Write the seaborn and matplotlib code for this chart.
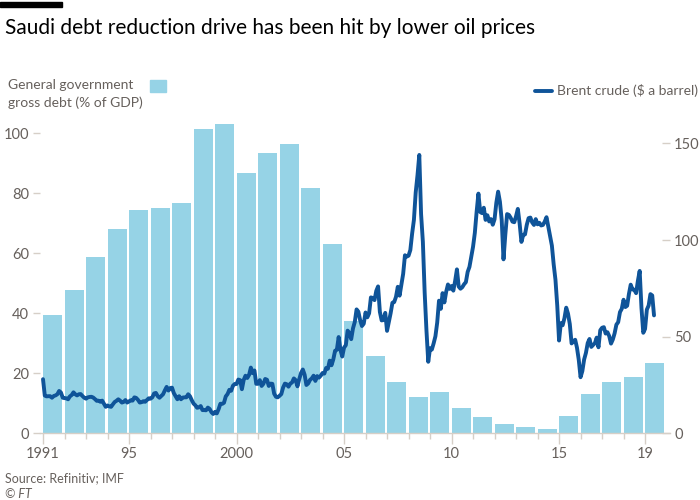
import numpy as np
import pandas as pd
import matplotlib
matplotlib.use("Agg")
import matplotlib.pyplot as plt
from matplotlib.patches import Rectangle
from matplotlib.lines import Line2D
import seaborn as sns

# -------------------------
# Data
# -------------------------
years = list(range(1991, 2020))
debt_pct_gdp = [39.4, 47.8, 58.8, 68.0, 74.3, 75.2, 76.7, 101.5, 103.1, 86.9,
                93.3, 96.4, 81.7, 63.0, 37.3, 25.7, 17.0, 12.0, 13.8, 8.3,
                5.3, 3.0, 2.0, 1.4, 5.7, 13.1, 17.0, 18.9, 23.5]

# Brent crude, $ a barrel, one value per month from Jan 1991 to Jun 2019
brent_start_year = 1991
brent_monthly = [
    28.0, 19.5, 19.1, 19.2, 19.2, 18.4, 19.3, 19.6, 20.2, 21.9, 21.1, 18.4,  # 1991
    18.2, 18.1, 17.6, 19.1, 19.8, 21.2, 20.2, 19.6, 20.2, 20.3, 19.3, 18.4,  # 1992
    17.9, 18.6, 18.8, 18.9, 18.5, 17.7, 16.8, 16.9, 16.3, 16.9, 15.3, 13.7,  # 1993
    14.4, 13.9, 13.7, 15.0, 16.2, 16.8, 17.6, 16.9, 15.9, 16.2, 17.2, 15.9,  # 1994
    16.5, 17.1, 16.9, 18.6, 18.3, 17.3, 15.9, 16.1, 16.6, 16.3, 17.2, 18.1,  # 1995
    17.9, 18.6, 20.6, 20.9, 19.2, 18.4, 19.3, 20.2, 22.2, 24.0, 22.1, 23.4,  # 1996
    23.6, 20.8, 19.2, 17.6, 19.2, 17.6, 18.5, 18.6, 18.6, 20.2, 19.2, 17.2,  # 1997
    15.4, 14.5, 13.2, 13.4, 14.1, 12.0, 12.0, 11.9, 13.3, 12.6, 10.9, 10.0,  # 1998
    11.1, 10.3, 12.5, 15.3, 15.2, 15.8, 19.1, 20.3, 22.5, 22.0, 24.6, 25.5,  # 1999
    25.5, 27.8, 27.5, 22.8, 27.6, 29.8, 28.6, 30.2, 34.0, 31.1, 32.5, 25.6,  # 2000
    25.6, 27.5, 24.5, 25.6, 28.1, 27.7, 24.5, 25.7, 25.6, 20.5, 18.9, 18.6,  # 2001
    19.4, 20.3, 23.7, 25.7, 25.4, 24.1, 25.7, 26.3, 28.4, 27.5, 24.3, 28.0,  # 2002
    31.2, 33.0, 30.3, 25.0, 25.8, 27.6, 28.4, 29.8, 27.1, 29.6, 28.8, 29.8,  # 2003
    31.2, 30.9, 33.8, 33.4, 37.6, 35.2, 38.2, 42.7, 43.2, 49.8, 43.1, 39.7,  # 2004
    44.3, 45.6, 53.1, 51.9, 48.7, 54.3, 57.6, 64.1, 62.9, 58.5, 55.5, 56.7,  # 2005
    62.5, 60.0, 62.1, 70.3, 70.0, 68.9, 73.7, 76.0, 62.8, 58.4, 58.6, 62.3,  # 2006
    53.0, 57.6, 62.1, 67.5, 67.9, 70.6, 75.8, 71.2, 77.0, 82.5, 92.1, 91.4,  # 2007
    91.9, 94.8, 103.3, 110.4, 124.6, 133.5, 144.0, 113.4, 99.0, 72.8, 53.2, 37.0,  # 2008
    44.0, 43.3, 46.5, 50.2, 57.3, 68.6, 64.4, 72.5, 67.7, 73.2, 77.0, 74.7,  # 2009
    76.2, 73.8, 78.8, 84.8, 75.9, 74.8, 75.6, 77.1, 78.2, 83.5, 86.1, 91.4,  # 2010
    96.5, 103.7, 114.6, 124.0, 114.5, 113.9, 116.7, 110.4, 112.8, 109.6, 110.8, 107.9,  # 2011
    110.7, 119.3, 125.0, 119.8, 110.3, 90.0, 102.6, 113.4, 113.0, 111.5, 109.5, 109.2,  # 2012
    112.3, 116.1, 108.5, 99.0, 102.6, 102.9, 107.9, 111.3, 111.6, 109.1, 107.8, 110.8,  # 2013
    108.1, 108.9, 107.5, 107.8, 109.5, 111.8, 106.8, 101.6, 97.1, 87.4, 79.4, 66.0,  # 2014
    48.0, 57.0, 55.9, 59.5, 65.0, 61.9, 56.5, 46.5, 47.6, 48.4, 44.3, 38.0,  # 2015
    29.0, 32.2, 38.2, 41.6, 46.7, 48.8, 44.7, 45.7, 46.6, 49.5, 44.5, 53.3,  # 2016
    54.6, 54.9, 51.6, 52.3, 50.3, 46.4, 48.5, 51.7, 56.2, 57.5, 62.7, 64.4,  # 2017
    69.1, 65.3, 66.0, 72.1, 76.9, 74.4, 74.3, 72.5, 78.9, 84.0, 64.8, 52.0,  # 2018
    54.0, 64.0, 66.1, 72.0, 71.3, 61.0,  # 2019
]

x_labels = ["1991", "95", "2000", "05", "10", "15", "19"]
x_label_years = [1991, 1995, 2000, 2005, 2010, 2015, 2019]
left_ticks = [0, 20, 40, 60, 80, 100]
right_ticks = [0, 50, 100, 150]

# -------------------------
# Style
# -------------------------
BAR_COLOR = "#96d3e6"
LINE_COLOR = "#0f5499"
TEXT_GREY = "#66605c"
TICK_GREY = "#d6cfc7"

sns.set_theme(style="white")
plt.rcParams["font.family"] = ["Lato", "DejaVu Sans"]

debt_df = pd.DataFrame({"year": [y + 0.45 for y in years], "debt": debt_pct_gdp})
brent_df = pd.DataFrame({
    "date": [brent_start_year + i / 12 for i in range(len(brent_monthly))],
    "brent": brent_monthly,
})

fig = plt.figure(figsize=(7, 5), dpi=100)
ax = fig.add_axes([40 / 700, 1 - 433.3 / 500, 630 / 700, 315 / 500])

sns.barplot(data=debt_df, x="year", y="debt", native_scale=True, width=0.88,
            color=BAR_COLOR, saturation=1, edgecolor="none", ax=ax)

ax2 = ax.twinx()
sns.lineplot(data=brent_df, x="date", y="brent", color=LINE_COLOR,
             linewidth=2.8, ax=ax2)

ax.set_xlim(1990.86, 2020.16)
ax.set_ylim(0, 105)
ax2.set_ylim(0, 105 * 3.0 / 1.933)

for a in (ax, ax2):
    for s in a.spines.values():
        s.set_visible(False)
    a.set_xlabel("")
    a.set_ylabel("")
ax.spines["bottom"].set_visible(True)
ax.spines["bottom"].set_color(TICK_GREY)
ax.spines["bottom"].set_linewidth(1)

ax.set_yticks(left_ticks)
ax.set_yticklabels([str(t) for t in left_ticks])
ax.tick_params(axis="y", left=True, length=5, width=1, color=TICK_GREY,
               labelcolor=TEXT_GREY, labelsize=10.5, pad=3)
ax2.set_yticks(right_ticks)
ax2.set_yticklabels([str(t) for t in right_ticks])
ax2.tick_params(axis="y", right=True, direction="in", length=6, width=1,
                color=TICK_GREY, labelcolor=TEXT_GREY, labelsize=10.5, pad=3)

ax.set_xticks(x_label_years)
ax.set_xticklabels(x_labels)
ax.set_xticks(years, minor=True)
ax.tick_params(axis="x", which="major", bottom=True, length=8, width=1,
               color=TICK_GREY, labelcolor=TEXT_GREY, labelsize=10.5, pad=2)
ax.tick_params(axis="x", which="minor", bottom=True, length=4, width=1,
               color=TICK_GREY)

# -------------------------
# Titles, legend, notes
# -------------------------
fig.add_artist(Rectangle((0, 1 - 7 / 500), 62 / 700, 5 / 500,
                         transform=fig.transFigure, color="black"))
fig.text(5 / 700, 1 - 28 / 500, "Saudi debt reduction drive has been hit by lower oil prices",
         fontsize=15, color="black", va="center", ha="left")

fig.text(8 / 700, 1 - 85 / 500, "General government", fontsize=10,
         color=TEXT_GREY, va="center", ha="left")
fig.text(8 / 700, 1 - 103 / 500, "gross debt (% of GDP)", fontsize=10,
         color=TEXT_GREY, va="center", ha="left")
fig.add_artist(Rectangle((150 / 700, 1 - 92 / 500), 16 / 700, 12 / 500,
                         transform=fig.transFigure, color=BAR_COLOR))

fig.add_artist(Line2D([535 / 700, 552 / 700], [1 - 91 / 500, 1 - 91 / 500],
                      transform=fig.transFigure, color=LINE_COLOR, linewidth=2.8))
fig.text(557 / 700, 1 - 91 / 500, "Brent crude ($ a barrel)", fontsize=10,
         color=TEXT_GREY, va="center", ha="left")

fig.text(5 / 700, 1 - 478 / 500, "Source: Refinitiv; IMF", fontsize=9,
         color=TEXT_GREY, va="center", ha="left")
fig.text(5 / 700, 1 - 494 / 500, "© FT", fontsize=9, style="italic",
         color=TEXT_GREY, va="center", ha="left")

fig.savefig("out.png", dpi=100)
plt.close(fig)
